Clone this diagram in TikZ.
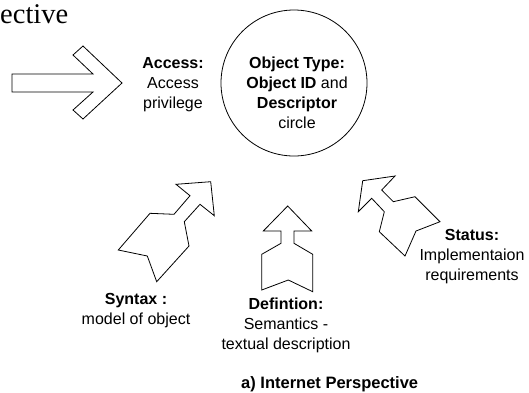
\documentclass[tikz,border=0pt]{standalone}
\usepackage{fontspec}
\setmainfont{Liberation Sans}
\newfontfamily\titlefont{Liberation Serif}
\tikzset{
  arrowline/.style={draw=black, line width=0.8pt, line join=miter},
  lbl/.style={align=center, inner sep=0pt, font=\fontsize{16}{20}\selectfont}
}
\begin{document}
\begin{tikzpicture}[x=1pt, y=-1pt]
    \useasboundingbox (0,0) rectangle (529,392);
    \node[anchor=base west, inner sep=0pt, font=\titlefont\fontsize{28.5}{30}\selectfont] (title) at (0,23) {ective};
    % access arrow
    \draw[arrowline] (12,74) -- (93,74) -- (73,55) -- (83,46) -- (122,83) -- (83,119) -- (73,110) -- (93,92) -- (12,92) -- cycle;
    % object circle
    \node[draw, circle, line width=0.8pt, minimum size=146pt, inner sep=0pt] (obj) at (294,83) {};
    \node[lbl] (objtext) at (297,93) {\textbf{Object Type:}\\ \textbf{Object ID} and\\ \textbf{Descriptor}\\ circle};
    \node[lbl] (access) at (173,85) {\textbf{Access:}\\ Access\\ privilege};
    % syntax arrow
    \draw[arrowline] (176,184.3) -- (210.7,181.7) -- (214.3,215.7) -- (200,204.3) -- (184.3,221.7) -- (189,246)
        -- (156.7,281.7) -- (147.3,256) -- (118.3,250) -- (150,213.3) -- (174,214.3) -- (190,195.7) -- cycle;
    % definition arrow
    \draw[arrowline] (287.7,206) -- (311.7,231) -- (294,231) -- (294,243.3) -- (312.7,254.3) -- (312.7,291.7)
        -- (288.3,280) -- (261.7,290) -- (261.7,254.3) -- (281,243.3) -- (281,231) -- (263.3,231) -- cycle;
    % status arrow
    \draw[arrowline] (358.3,211.7) -- (362.7,180.7) -- (395,176) -- (381.7,190) -- (393.3,201.7) -- (415,196.7)
        -- (440,221.7) -- (416,231) -- (405,256) -- (379.3,231.7) -- (384.3,211.7) -- (371.7,198.3) -- cycle;
    \node[lbl] (syntax) at (136,311) {\textbf{Syntax :}\\ model of object};
    \node[lbl] (defn) at (286,325) {\textbf{Defintion:}\\ Semantics -\\ textual description};
    \node[lbl] (status) at (472,257) {\textbf{Status:}\\ Implementaion\\ requirements};
    \node[anchor=base west, inner sep=0pt, font=\bfseries\fontsize{16.5}{18}\selectfont] (caption) at (241,388) {a) Internet Perspective};
\end{tikzpicture}
\end{document}
